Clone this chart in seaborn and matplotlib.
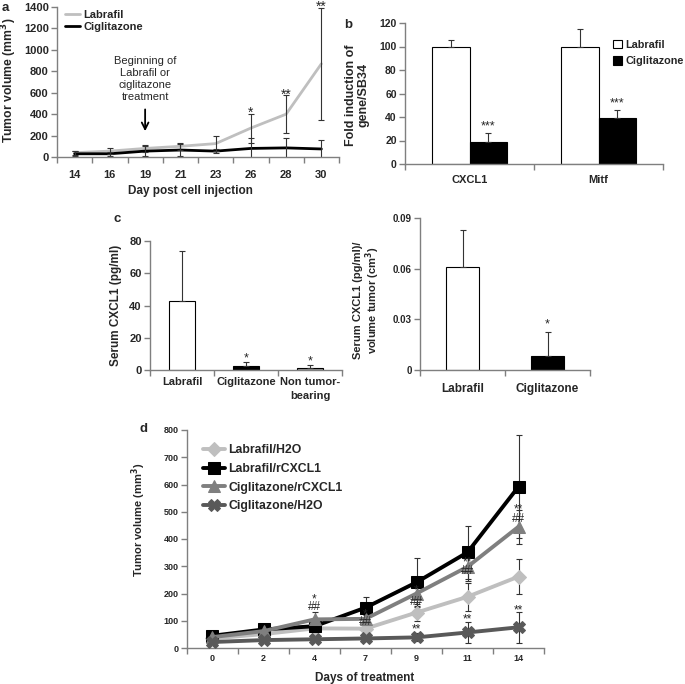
import numpy as np
import pandas as pd
import matplotlib
matplotlib.use("Agg")
import matplotlib.pyplot as plt
import seaborn as sns
from matplotlib.patches import Patch

sns.set_theme(style="white")
plt.rcParams['font.family'] = ['Liberation Sans', 'DejaVu Sans']
plt.rcParams['font.weight'] = 'bold'
plt.rcParams['axes.labelweight'] = 'bold'

# ---------------- data ----------------
# panel a
days_a = ["14", "16", "19", "21", "23", "26", "28", "30"]
labrafil_a = [40, 55, 80, 100, 125, 270, 400, 870]
labrafil_a_err = [20, 30, 30, 35, 70, 135, 180, 525]
cig_a = [30, 30, 55, 65, 55, 80, 85, 75]
cig_a_err = [25, 20, 50, 60, 20, 95, 90, 85]
stars_a = ["", "", "", "", "", "*", "**", "**"]

# panel b
genes_b = ["CXCL1", "Mitf"]
labrafil_b = [100, 100]
labrafil_b_err = [5.5, 15]
cig_b = [19, 39]
cig_b_err = [7, 7]

# panel c (left)
groups_c1 = ["Labrafil", "Ciglitazone", "Non tumor-\nbearing"]
serum_c1 = [43, 2.2, 1.5]
serum_c1_err = [31, 2.5, 1.5]
stars_c1 = ["", "*", "*"]

# panel c (right)
groups_c2 = ["Labrafil", "Ciglitazone"]
serum_c2 = [0.061, 0.0085]
serum_c2_err = [0.022, 0.014]
stars_c2 = ["", "*"]

# panel d
days_d = ["0", "2", "4", "7", "9", "11", "14"]
lab_h2o = [35, 51, 72, 71, 130, 188, 262]
lab_h2o_err = [8, 10, 12, 15, 30, 51, 64]
lab_rcx = [45, 68, 80, 148, 241, 351, 592]
lab_rcx_err = [10, 12, 15, 40, 90, 98, 188]
cig_rcx = [40, 62, 105, 107, 200, 298, 445]
cig_rcx_err = [8, 10, 28, 15, 45, 52, 63]
cig_h2o = [22, 29, 32, 35, 39, 57, 76]
cig_h2o_err = [5, 8, 8, 10, 15, 40, 56]
# annotations in d: (category index, value, text)
notes_d = [(2, 180, "*"), (2, 152, "##"), (3, 123, "*"), (3, 95, "##"),
           (4, 210, "*"), (4, 170, "##"), (4, 68, "**"),
           (5, 315, "**"), (5, 282, "##"), (5, 103, "**"),
           (6, 508, "**"), (6, 474, "##"), (6, 139, "**")]

W, H = 685, 684
fig = plt.figure(figsize=(W / 100, H / 100), dpi=100)


def px_axes(l, t, r, b):
    return fig.add_axes([l / W, 1 - b / H, (r - l) / W, (b - t) / H])


AX_C = '#7f7f7f'


def style_ax(ax, n, fs, xpad=3):
    sns.despine(ax=ax)
    for s in ['left', 'bottom']:
        ax.spines[s].set_color(AX_C)
        ax.spines[s].set_linewidth(1)
    ax.set_xlim(-0.5, n - 0.5)
    ax.set_xticks(range(n))
    ax.set_xticks(np.arange(-0.5, n), minor=True)
    ax.tick_params(axis='x', which='major', bottom=False, length=0, labelsize=fs, pad=xpad)
    ax.tick_params(axis='x', which='minor', bottom=True, length=4, width=1, color=AX_C, direction='out')
    ax.tick_params(axis='y', left=True, length=4, width=1, color=AX_C, direction='out', labelsize=fs, pad=2)


def label_px(ax, axis, x, y, l, t, r, b):
    # y-label: x is the label's right edge; x-label: y is the label's top edge
    ax_x = (x - l) / (r - l)
    ax_y = (b - y) / (b - t)
    if axis == 'y':
        ax.yaxis.set_label_coords(ax_x, ax_y)
    else:
        ax.xaxis.set_label_coords(ax_x, ax_y)


# ---------------- panel a ----------------
A = (57, 7, 339, 157)
ax = px_axes(*A)
xa = np.arange(len(days_a))
sns.lineplot(x=xa, y=labrafil_a, ax=ax, color='#bfbfbf', lw=2, label='Labrafil')
sns.lineplot(x=xa, y=cig_a, ax=ax, color='black', lw=2, label='Ciglitazone')
ax.errorbar(xa, labrafil_a, yerr=labrafil_a_err, fmt='none', ecolor='#333333', elinewidth=0.8, capsize=2.5, capthick=0.8)
ax.errorbar(xa, cig_a, yerr=cig_a_err, fmt='none', ecolor='#333333', elinewidth=0.8, capsize=2.5, capthick=0.8)
for i, s in enumerate(stars_a):
    if s:
        ax.text(i, labrafil_a[i] + labrafil_a_err[i] - 60, s, ha='center', va='bottom', fontsize=10,
                fontweight='normal', clip_on=False)
style_ax(ax, len(days_a), 8, xpad=9)
ax.set_ylim(0, 1400)
ax.set_yticks(range(0, 1401, 200))
ax.set_xticks(xa)
ax.set_xticklabels(days_a)
ax.set_ylabel("Tumor volume (mm$^3$)", fontsize=8.8)
ax.set_xlabel("Day post cell injection", fontsize=8.5)
label_px(ax, 'y', 19, 80, *A)
label_px(ax, 'x', 190, 185, *A)
ax.text(2, 725, "Beginning of\nLabrafil or\nciglitazone\ntreatment", ha='center', va='center',
        fontsize=8, fontweight='normal', linespacing=1.25)
ax.annotate("", xy=(2, 215), xytext=(2, 470),
            arrowprops=dict(arrowstyle='->', color='black', lw=1.3, mutation_scale=12))
ax.legend(loc='upper left', bbox_to_anchor=(58 / W, 1 - 3 / H), bbox_transform=fig.transFigure,
          frameon=False, fontsize=8, handlelength=1.4, handletextpad=0.3, labelspacing=0.2, borderpad=0.1)

# ---------------- panel b ----------------
B = (405, 23, 663, 164)
ax = px_axes(*B)
df_b = pd.DataFrame({'gene': genes_b * 2,
                     'group': ['Labrafil'] * 2 + ['Ciglitazone'] * 2,
                     'value': labrafil_b + cig_b})
sns.barplot(data=df_b, x='gene', y='value', hue='group',
            palette={'Labrafil': 'white', 'Ciglitazone': 'black'},
            edgecolor='black', linewidth=0.8, width=0.575, errorbar=None, ax=ax, legend=False)
errs_b = [labrafil_b_err, cig_b_err]
vals_b = [labrafil_b, cig_b]
bar_conts = list(ax.containers)
for ci, cont in enumerate(bar_conts):
    xs = [p.get_x() + p.get_width() / 2 for p in cont]
    ax.errorbar(xs, vals_b[ci], yerr=[np.zeros(len(xs)), errs_b[ci]], fmt='none', ecolor='#333333',
                elinewidth=0.8, capsize=2.5, capthick=0.8)
    if ci == 1:
        for x, v, e in zip(xs, vals_b[ci], errs_b[ci]):
            ax.text(x, v + e + 0.5, "***", ha='center', va='bottom', fontsize=9, fontweight='normal')
style_ax(ax, len(genes_b), 8, xpad=8)
ax.set_ylim(0, 120)
ax.set_yticks(range(0, 121, 20))
ax.tick_params(axis='y', labelsize=7.5)
ax.set_xlabel("")
ax.set_ylabel("Fold induction of\ngene/SB34", fontsize=9, linespacing=1.0)
label_px(ax, 'y', 369, 95, *B)
handles_b = [Patch(facecolor='white', edgecolor='black', linewidth=0.8, label='Labrafil'),
             Patch(facecolor='black', edgecolor='black', linewidth=0.8, label='Ciglitazone')]
ax.legend(handles=handles_b, loc='upper left', bbox_to_anchor=(606 / W, 1 - 33 / H),
          bbox_transform=fig.transFigure, frameon=False, fontsize=7.8, handlelength=0.9,
          handleheight=0.9, handletextpad=0.3, labelspacing=0.55, borderpad=0.1)

# ---------------- panel c (left) ----------------
C1 = (150, 241, 342, 370)
ax = px_axes(*C1)
sns.barplot(x=groups_c1, y=serum_c1, hue=groups_c1, palette=['white', 'black', '#9a9a9a'],
            edgecolor='black', linewidth=0.8, width=0.42, errorbar=None, ax=ax, legend=False)
xs = np.arange(len(groups_c1))
ax.errorbar(xs, serum_c1, yerr=[np.zeros(len(xs)), serum_c1_err], fmt='none', ecolor='#333333',
            elinewidth=0.8, capsize=2.5, capthick=0.8)
for i, s in enumerate(stars_c1):
    if s:
        ax.text(i, serum_c1[i] + serum_c1_err[i] - 1.5, s, ha='center', va='bottom', fontsize=9, fontweight='normal')
style_ax(ax, len(groups_c1), 8, xpad=5)
for lbl in ax.get_xticklabels():
    lbl.set_linespacing(1.45)
ax.set_ylim(0, 80)
ax.set_yticks(range(0, 81, 20))
ax.set_ylabel("Serum CXCL1 (pg/ml)", fontsize=8.5)
label_px(ax, 'y', 122, 305, *C1)

# ---------------- panel c (right) ----------------
C2 = (420, 218, 590, 370)
ax = px_axes(*C2)
sns.barplot(x=groups_c2, y=serum_c2, hue=groups_c2, palette=['white', 'black'],
            edgecolor='black', linewidth=0.8, width=0.39, errorbar=None, ax=ax, legend=False)
xs = np.arange(len(groups_c2))
ax.errorbar(xs, serum_c2, yerr=[np.zeros(len(xs)), serum_c2_err], fmt='none', ecolor='#333333',
            elinewidth=0.8, capsize=2.5, capthick=0.8)
for i, s in enumerate(stars_c2):
    if s:
        ax.text(i, serum_c2[i] + serum_c2_err[i] + 0.001, s, ha='center', va='bottom', fontsize=9, fontweight='normal')
style_ax(ax, len(groups_c2), 8.5, xpad=9)
ax.set_ylim(0, 0.09)
ax.set_yticks([0, 0.03, 0.06, 0.09])
ax.set_yticklabels(["0", "0.03", "0.06", "0.09"])
ax.tick_params(axis='y', labelsize=7)
ax.set_ylabel("Serum CXCL1 (pg/ml)/\nvolume tumor (cm$^3$)", fontsize=8, linespacing=1.0)
label_px(ax, 'y', 382, 300, *C2)

# ---------------- panel d ----------------
D = (187, 430, 544, 648)
ax = px_axes(*D)
xd = np.arange(len(days_d))
series_d = [
    ("Labrafil/H2O", lab_h2o, lab_h2o_err, '#bfbfbf', 'D', 7),
    ("Labrafil/rCXCL1", lab_rcx, lab_rcx_err, 'black', 's', 9),
    ("Ciglitazone/rCXCL1", cig_rcx, cig_rcx_err, '#7f7f7f', '^', 9),
    ("Ciglitazone/H2O", cig_h2o, cig_h2o_err, '#595959', 'X', 9),
]
for name, vals, errs, col, mk, ms in series_d:
    ax.errorbar(xd, vals, yerr=errs, fmt='none', ecolor='#333333', elinewidth=0.8, capsize=2.5,
                capthick=0.8, zorder=1)
for name, vals, errs, col, mk, ms in series_d:
    sns.lineplot(x=xd, y=vals, ax=ax, color=col, lw=2.8, marker=mk, markersize=ms,
                 markeredgecolor=col, label=name, zorder=3)
for i, v, t in notes_d:
    ax.text(i, v, t, ha='center', va='center', fontsize=8.5, fontweight='normal', zorder=5)
style_ax(ax, len(days_d), 6.5, xpad=4)
ax.set_ylim(0, 800)
ax.set_yticks(range(0, 801, 100))
ax.set_xticks(xd)
ax.set_xticklabels(days_d)
ax.set_ylabel("Tumor volume (mm$^3$)", fontsize=8)
ax.set_xlabel("Days of treatment", fontsize=8.5)
label_px(ax, 'y', 148, 520, *D)
label_px(ax, 'x', 365, 672, *D)
ax.legend(loc='upper left', bbox_to_anchor=(196 / W, 1 - 437 / H), bbox_transform=fig.transFigure,
          frameon=False, fontsize=8.8, handlelength=1.8, handletextpad=0.25, labelspacing=0.55, borderpad=0.1)

# panel letters
for letter, (x, y) in {"a": (5, 8), "b": (348, 25), "c": (117, 219), "d": (143, 429)}.items():
    fig.text(x / W, 1 - y / H, letter, ha='center', va='center', fontsize=9.5, fontweight='bold')

fig.savefig("out.png", dpi=100)
